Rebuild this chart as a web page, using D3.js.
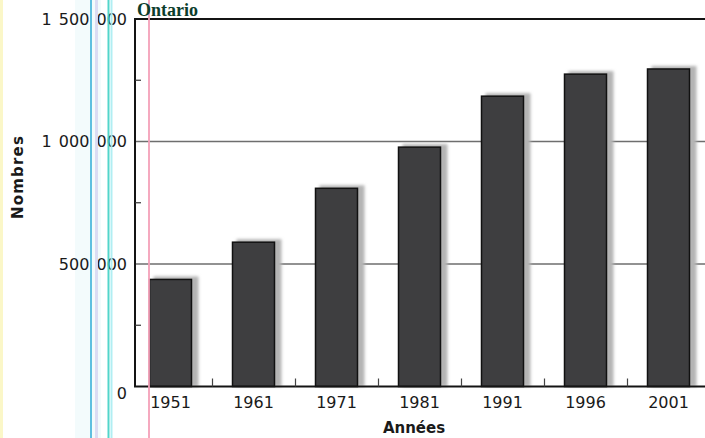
<!DOCTYPE html>
<html><head><meta charset="utf-8">
<script src="https://cdn.jsdelivr.net/npm/d3@7"></script>
<style>body{margin:0;background:#fff}svg{display:block}</style>
</head><body>
<script>
const years = ["1951","1961","1971","1981","1991","1996","2001"];
const values = [437000, 589000, 809000, 977000, 1185000, 1275000, 1296000];
const yTicks = [0, 500000, 1000000, 1500000];
const yMinorTicks = [250000, 750000, 1250000];
const title = "Ontario";
const yLabel = "Nombres";
const xLabel = "Années";

const W = 705, H = 438;
const svg = d3.select("body").append("svg").attr("width", W).attr("height", H);
const defs = svg.append("defs");
defs.append("filter").attr("id","blur").attr("x","-20%").attr("y","-20%").attr("width","140%").attr("height","140%")
  .append("feGaussianBlur").attr("stdDeviation", 1.8);

// scan artifacts (vertical coloured lines)
const art = [
  {x:1.5,w:3,c:"#fbf7c8"},
  {x:88,w:26,c:"#f3fbfc"},
  {x:91,w:2,c:"#4fb8dc"},
  {x:96.5,w:3,c:"#d8d8f2"},
  {x:108.5,w:2,c:"#3fd0c4"},
  {x:111.5,w:2,c:"#a8ecf2"},
  {x:149,w:2,c:"#f4a0b8"}
];

const x0 = 135, yTop = 19, yBase = 386.5;
const x = d3.scaleBand().domain(years).range([129, 710]).paddingInner(0.494).paddingOuter(0.247);
const y = d3.scaleLinear().domain([0, 1500000]).range([yBase, yTop]);

const g = svg.append("g");
g.selectAll("rect.art").data(art.slice(0,2)).join("rect").attr("class","art")
  .attr("x", d=>d.x - d.w/2).attr("y",0).attr("width",d=>d.w).attr("height",H).attr("fill",d=>d.c);

// gridlines
g.selectAll("line.grid").data([500000, 1000000]).join("line").attr("class","grid")
  .attr("x1", x0).attr("x2", W).attr("y1", d=>y(d)).attr("y2", d=>y(d))
  .attr("stroke","#6e6e6e").attr("stroke-width",1.3);

// shadows
g.selectAll("rect.shadow").data(values).join("rect").attr("class","shadow")
  .attr("x",(d,i)=>x(years[i])+4).attr("y",d=>y(d)-3)
  .attr("width", x.bandwidth()+3).attr("height", d=>yBase - y(d)+3)
  .attr("fill","#b4b4b4").attr("filter","url(#blur)");

// bars
g.selectAll("rect.bar").data(values).join("rect").attr("class","bar")
  .attr("x",(d,i)=>x(years[i])).attr("y",d=>y(d))
  .attr("width", x.bandwidth()).attr("height", d=>yBase - y(d))
  .attr("fill","#3e3e40").attr("stroke","#111").attr("stroke-width",1.5);

// frame
g.append("path").attr("d",`M${W},${yTop}H${x0}V${yBase}H${W}`)
  .attr("fill","none").attr("stroke","#141414").attr("stroke-width",2);

// y axis
const yAxis = d3.axisLeft(y).tickValues(yTicks).tickSize(0).tickPadding(8)
  .tickFormat(d => d3.format(",")(d).replace(/,/g," "));
const ya = g.append("g").attr("transform",`translate(${x0},0)`).call(yAxis);
ya.select(".domain").remove();
ya.selectAll("text").attr("font-family","DejaVu Sans").attr("font-size",16).attr("fill","#1a1a1a")
  .attr("word-spacing", 2)
  .attr("dy", d => d===0 ? "0.75em" : "0.32em");

// y minor ticks (inside)
g.selectAll("line.ymin").data(yMinorTicks).join("line").attr("class","ymin")
  .attr("x1",x0).attr("x2",x0+6).attr("y1",d=>y(d)).attr("y2",d=>y(d))
  .attr("stroke","#333").attr("stroke-width",1.2);

// x minor ticks between bars
const mids = years.slice(0,-1).map((yr,i)=> (x(yr)+x.bandwidth() + x(years[i+1]))/2 + 0.5);
g.selectAll("line.xmin").data(mids).join("line").attr("class","xmin")
  .attr("x1",d=>d).attr("x2",d=>d).attr("y1",yBase).attr("y2",yBase-8)
  .attr("stroke","#444").attr("stroke-width",1.2);

// x axis labels
const xAxis = d3.axisBottom(x).tickSize(0).tickPadding(10);
const xa = g.append("g").attr("transform",`translate(0,${yBase})`).call(xAxis);
xa.select(".domain").remove();
xa.selectAll("text").attr("font-family","DejaVu Sans").attr("font-size",16).attr("fill","#1a1a1a");

// remaining artifacts on top
g.selectAll("rect.art2").data(art.slice(2)).join("rect").attr("class","art2")
  .attr("x", d=>d.x - d.w/2).attr("y",0).attr("width",d=>d.w).attr("height",H).attr("fill",d=>d.c)
  .attr("opacity",0.9);

// title
svg.append("text").attr("x",137).attr("y",16).text(title)
  .attr("font-family","Liberation Serif").attr("font-weight","bold").attr("font-size",18).attr("fill","#0c3d2c");

// axis titles
svg.append("text").attr("transform","translate(23,177) rotate(-90)").attr("text-anchor","middle")
  .text(yLabel).attr("font-family","DejaVu Sans").attr("font-weight","bold").attr("font-size",15)
  .attr("letter-spacing",1.2).attr("fill","#1a1a1a");
svg.append("text").attr("x",414).attr("y",433).attr("text-anchor","middle")
  .text(xLabel).attr("font-family","DejaVu Sans").attr("font-weight","bold").attr("font-size",15).attr("fill","#1a1a1a");
</script>
</body></html>
